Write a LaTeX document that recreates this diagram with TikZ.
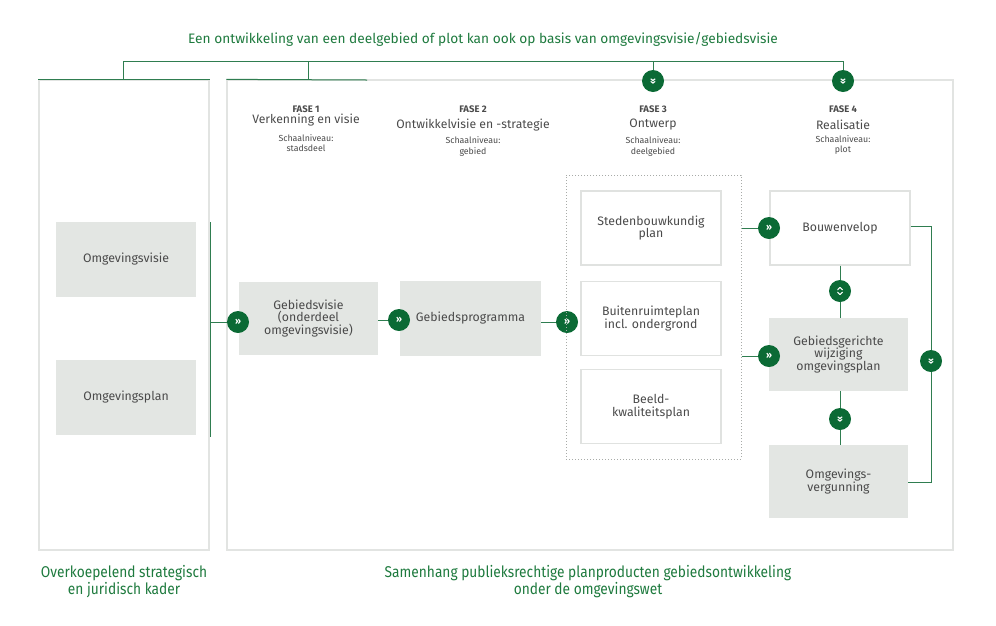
\documentclass[tikz,border=0pt]{standalone}
\usepackage{fontspec}
\setmainfont{Fira Sans}
\newfontfamily\condfont[FakeStretch=0.88]{Fira Sans}
\definecolor{dgreen}{HTML}{0B6A35}
\definecolor{lgreen}{HTML}{2F7D50}
\definecolor{tgreen}{HTML}{1E7A3E}
\definecolor{boxgray}{HTML}{E3E6E3}
\definecolor{framegray}{HTML}{E2E4E2}
\definecolor{bordergray}{HTML}{E0E2E0}
\definecolor{dotgray}{HTML}{A8ABA8}
\definecolor{txtgray}{HTML}{4A4A4A}
\begin{document}
\begin{tikzpicture}[x=1pt,y=-1pt,
  gbox/.style={fill=boxgray, draw=none, minimum width=140pt, minimum height=74pt, inner sep=2pt, align=center, text=txtgray, font=\fontsize{12.3}{12.8}\selectfont},
  wbox/.style={gbox, fill=white, draw=bordergray, line width=1.3pt},
  frame/.style={draw=framegray, line width=1.3pt, inner sep=0pt},
  circ/.style={circle, fill=dgreen, minimum size=22pt, inner sep=0pt, text=white, font=\bfseries\fontsize{9.5}{9.5}\selectfont},
  conn/.style={draw=lgreen, line width=1pt},
  fase/.style={align=center, text=txtgray, inner sep=0pt},
  glabel/.style={align=center, text=tgreen, inner sep=0pt, font=\condfont\fontsize{15.6}{17}\selectfont}
]
\useasboundingbox (0,0) rectangle (996,625);

% title
\node[align=center, text=tgreen, inner sep=0pt, font=\fontsize{13.7}{15}\selectfont] (title) at (483,39) {Een ontwikkeling van een deelgebied of plot kan ook op basis van omgevingsvisie/gebiedsvisie};

% frames
\node[frame, minimum width=170pt, minimum height=470pt] (lf) at (124,315) {};
\node[frame, minimum width=726pt, minimum height=470pt] (rf) at (590,315) {};
\draw[conn] (lf.north west) -- (lf.north east);
\coordinate (rfg) at (367,80);
\draw[conn] (rf.north west) -- (rfg);

% top bracket
\coordinate (tL) at (123,61);
\coordinate (tR) at (843,61);
\coordinate (t2) at (308,61);
\coordinate (t2b) at (308,80);
\coordinate (t3) at (653,61);
\node[circ, rotate=-90] (c3t) at (653,81) {»};
\node[circ, rotate=-90] (c4t) at (843,81) {»};
\draw[conn] (tL) -- (tR);
\draw[conn] (tL) -- (tL |- lf.north);
\draw[conn] (t2) -- (t2b);
\draw[conn] (t3) -- (c3t);
\draw[conn] (tR) -- (c4t);

% phase headers
\node[fase, font=\bfseries\fontsize{9.5}{10}\selectfont] (f1) at (306,109) {FASE 1};
\node[fase, font=\fontsize{12.2}{13}\selectfont] (f1t) at (306,120) {Verkenning en visie};
\node[fase, font=\fontsize{8.8}{10.5}\selectfont] (f1s) at (306,143) {Schaalniveau:\\stadsdeel};

\node[fase, font=\bfseries\fontsize{9.5}{10}\selectfont] (f2) at (473,109) {FASE 2};
\node[fase, font=\fontsize{12.2}{13}\selectfont] (f2t) at (473,125) {Ontwikkelvisie en -strategie};
\node[fase, font=\fontsize{8.8}{10.5}\selectfont] (f2s) at (473,146.5) {Schaalniveau:\\gebied};

\node[fase, font=\bfseries\fontsize{9.5}{10}\selectfont] (f3) at (653,109) {FASE 3};
\node[fase, font=\fontsize{12.2}{13}\selectfont] (f3t) at (653,125) {Ontwerp};
\node[fase, font=\fontsize{8.8}{10.5}\selectfont] (f3s) at (653,146.5) {Schaalniveau:\\deelgebied};

\node[fase, font=\bfseries\fontsize{9.5}{10}\selectfont] (f4) at (843,109) {FASE 4};
\node[fase, font=\fontsize{12.2}{13}\selectfont] (f4t) at (843,125) {Realisatie};
\node[fase, font=\fontsize{8.8}{10.5}\selectfont] (f4s) at (843,145) {Schaalniveau:\\plot};

% left boxes
\node[gbox, minimum height=75pt] (ov) at (126,259.5) {Omgevingsvisie};
\node[gbox, minimum height=75pt] (op) at (126,397.5) {Omgevingsplan};
\coordinate (lvt) at (210,222);
\coordinate (lvb) at (210,437);
\draw[conn] (lvt) -- (lvb);

% fase 1-2
\node[gbox, minimum width=139pt, minimum height=73pt] (gv) at (308.5,318.5) {Gebiedsvisie\\(onderdeel\\omgevingsvisie)};
\node[gbox, minimum width=141pt, minimum height=75pt] (gp) at (470.5,318.5) {Gebiedsprogramma};
\node[circ] (c1) at (238,322) {»};
\node[circ] (c2) at (399,320) {»};
\node[circ] (c3) at (567,322) {»};
\draw[conn] (c1 -| lvt) -- (c1);
\draw[conn] (gv.east |- c2) -- (c2);
\draw[conn] (gp.east |- c3) -- (c3);

% fase 3 dotted
\node[draw=dotgray, dotted, line width=1pt, minimum width=175pt, minimum height=284pt, inner sep=0pt] (dot) at (653.5,317) {};
\node[wbox] (sb) at (651,228) {Stedenbouwkundig\\plan};
\node[wbox] (br) at (651,318.5) {Buitenruimteplan\\incl. ondergrond};
\node[wbox] (bk) at (651,406.5) {Beeld-\\kwaliteitsplan};

% fase 4
\node[wbox] (bw) at (840,228) {Bouwenvelop};
\node[gbox, minimum width=139pt, minimum height=73pt] (gg) at (838.5,354.5) {Gebiedsgerichte\\wijziging\\omgevingsplan};
\node[gbox, minimum width=139pt, minimum height=73pt] (og) at (838.5,481.5) {Omgevings-\\vergunning};
\node[circ] (c5) at (769,228) {»};
\node[circ] (c6) at (769,356) {»};
\node[circ] (c7) at (840,291) {};
\node[circ, rotate=-90] (c8) at (840,419) {»};
\node[circ, rotate=-90] (c9) at (931,361) {»};
\draw[white, line width=1pt, line cap=round, line join=round] ([xshift=-2.4pt,yshift=-1.3pt]c7.center) -- ([yshift=-3.6pt]c7.center) -- ([xshift=2.4pt,yshift=-1.3pt]c7.center);
\draw[white, line width=1pt, line cap=round, line join=round] ([xshift=-2.4pt,yshift=1.3pt]c7.center) -- ([yshift=3.6pt]c7.center) -- ([xshift=2.4pt,yshift=1.3pt]c7.center);
\draw[conn] (dot.east |- c5) -- (c5);
\draw[conn] (dot.east |- c6) -- (c6);
\draw[conn] (bw.south -| c7) -- (c7);
\draw[conn] (c7) -- (gg.north -| c7);
\draw[conn] (gg.south -| c8) -- (c8);
\draw[conn] (c8) -- (og.north -| c8);
\coordinate (bra) at (931,226);
\coordinate (brb) at (931,482);
\draw[conn] (bw.east |- bra) -- (bra) -- (c9);
\draw[conn] (c9) -- (brb) -- (og.east |- brb);

% bottom labels
\node[glabel] (lbl1) at (124,581.5) {Overkoepelend strategisch\\en juridisch kader};
\node[glabel] (lbl2) at (588,581.5) {Samenhang publieksrechtige planproducten gebiedsontwikkeling\\onder de omgevingswet};
\end{tikzpicture}
\end{document}
